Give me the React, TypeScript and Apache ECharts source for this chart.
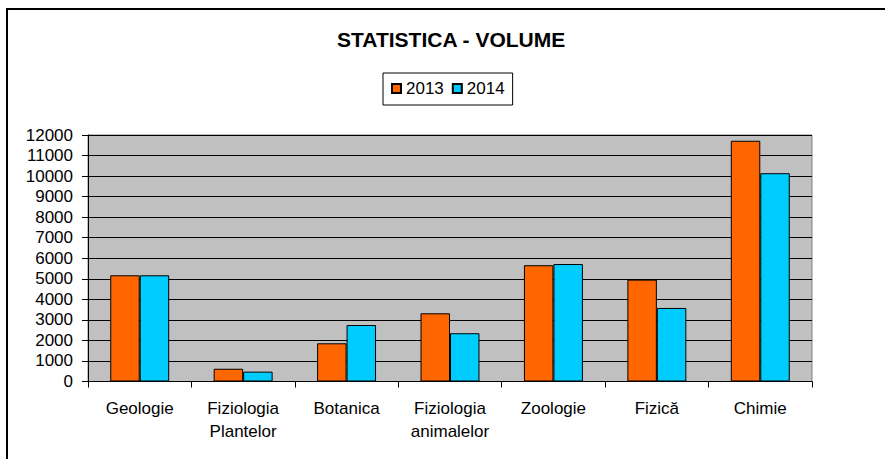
import React, { useEffect, useRef } from "react";
import * as echarts from "echarts";

const categories = [
  "Geologie",
  "Fiziologia\nPlantelor",
  "Botanica",
  "Fiziologia\nanimalelor",
  "Zoologie",
  "Fizică",
  "Chimie",
];
const series2013 = [5170, 620, 1860, 3320, 5660, 4960, 11720];
const series2014 = [5170, 480, 2750, 2350, 5720, 3580, 10140];
const seriesNames = ["2013", "2014"];
const titleText = "STATISTICA - VOLUME";

const FONT = "'Liberation Sans', Arial, sans-serif";

export default function App() {
  const ref = useRef<HTMLDivElement>(null);

  useEffect(() => {
    if (!ref.current) return;
    const chart = echarts.init(ref.current, null, { renderer: "svg" });
    chart.setOption({
      animation: false,
      backgroundColor: "#ffffff",
      textStyle: { fontFamily: FONT },
      title: {
        text: titleText,
        left: 337,
        top: 29,
        padding: 0,
        textStyle: {
          fontFamily: FONT,
          fontSize: 21,
          fontWeight: "bold",
          color: "#000",
        },
      },
      legend: {
        data: seriesNames,
        left: 383,
        top: 73,
        padding: [7, 8, 8, 8],
        itemGap: 8,
        itemWidth: 9,
        itemHeight: 9,
        icon: "rect",
        borderColor: "#000",
        borderWidth: 1,
        textStyle: { fontFamily: FONT, fontSize: 17, color: "#000" },
      },
      graphic: [
        {
          type: "rect",
          shape: { x: 7, y: 9, width: 1000, height: 1000 },
          style: { fill: "none", stroke: "#000", lineWidth: 2 },
          silent: true,
          z: 100,
        },
      ],
      grid: {
        left: 88,
        right: 73,
        top: 135,
        bottom: 77.5,
        show: true,
        backgroundColor: "#C0C0C0",
        borderColor: "#808080",
        borderWidth: 1,
      },
      xAxis: {
        type: "category",
        data: categories,
        axisLine: { show: true, lineStyle: { color: "#000", width: 1 } },
        axisTick: {
          show: true,
          length: 6,
          alignWithLabel: false,
          lineStyle: { color: "#000" },
        },
        axisLabel: {
          interval: 0,
          margin: 15,
          fontFamily: FONT,
          fontSize: 17,
          lineHeight: 23,
          color: "#000",
        },
        splitLine: { show: false },
      },
      yAxis: {
        type: "value",
        min: 0,
        max: 12000,
        interval: 1000,
        axisLine: { show: true, lineStyle: { color: "#000", width: 1 } },
        axisTick: { show: true, length: 6, lineStyle: { color: "#000" } },
        axisLabel: {
          margin: 15,
          fontFamily: FONT,
          fontSize: 17,
          color: "#000",
          formatter: (v: number) => String(v),
        },
        splitLine: { show: true, lineStyle: { color: "#000", width: 1 } },
      },
      series: [
        {
          name: seriesNames[0],
          type: "bar",
          data: series2013,
          barGap: "0%",
          barCategoryGap: "43%",
          itemStyle: { color: "#FF6600", borderColor: "#000", borderWidth: 1 },
        },
        {
          name: seriesNames[1],
          type: "bar",
          data: series2014,
          barGap: "0%",
          barCategoryGap: "43%",
          itemStyle: { color: "#00CCFF", borderColor: "#000", borderWidth: 1 },
        },
      ],
    });
    return () => chart.dispose();
  }, []);

  return (
    <div
      ref={ref}
      style={{ position: "absolute", left: 0, top: 0, width: 885, height: 459 }}
    />
  );
}
